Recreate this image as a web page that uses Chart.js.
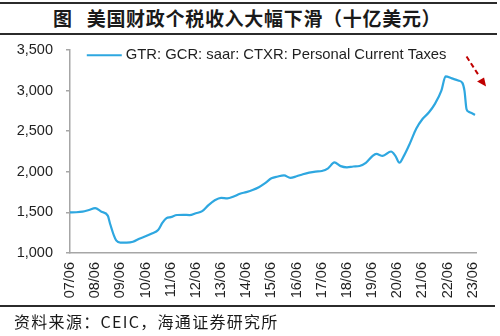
<!DOCTYPE html>
<html>
<head>
<meta charset="utf-8">
<script src="https://cdn.jsdelivr.net/npm/chart.js@4.4.1/dist/chart.umd.min.js"></script>
<style>
  html, body { margin: 0; padding: 0; background: #fff; }
  #wrap { position: relative; width: 500px; height: 336px; overflow: hidden; }
  #c { position: absolute; left: 0; top: 0; }
  .rule { position: absolute; left: 0; height: 2px; background: #2b2b2b; }
  #title { position: absolute; left: 53px; top: 6px; white-space: nowrap;
    font-family: "Noto Sans CJK SC", sans-serif; font-weight: 700; font-size: 19px; line-height: 24px; color: #1a1a1a; letter-spacing: 0.7px; }
  #title span { margin-left: 14px; }
  #source { position: absolute; left: 14px; top: 310px; white-space: nowrap;
    font-family: "Noto Sans CJK SC", sans-serif; font-size: 16px; line-height: 22px; color: #1a1a1a; letter-spacing: 1.3px; }
</style>
</head>
<body>
<div id="wrap">
  <div class="rule" style="top:2px;width:497px"></div>
  <div id="title">图<span>美国财政个税收入大幅下滑（十亿美元）</span></div>
  <div class="rule" style="top:33px;width:497px"></div>
  <canvas id="c" width="500" height="336"></canvas>
  <div class="rule" style="top:305px;width:495px;height:1.5px"></div>
  <div id="source">资料来源：CEIC，海通证券研究所</div>
</div>
<script>
// ---- data (billions USD, SAAR) ----
const seriesName = 'GTR: GCR: saar: CTXR: Personal Current Taxes';
const dates = ['07/06','07/09','07/12','08/03','08/06','08/09','08/12','09/01','09/03','09/04',
  '09/06','09/09','09/12','10/03','10/06','10/09','10/12','11/02','11/04','11/06',
  '11/09','11/12','12/03','12/06','12/09','12/12','13/03','13/06','13/09','13/12',
  '14/03','14/06','14/09','14/12','15/03','15/06','15/09','15/12','16/03','16/06',
  '16/09','16/12','17/03','17/06','17/09','17/12','18/03','18/06','18/09','18/12',
  '19/03','19/06','19/08','19/11','20/03','20/05','20/07','20/09','20/12','21/03',
  '21/06','21/09','21/12','22/03','22/05','22/08','22/11','23/01','23/02','23/03',
  '23/04','23/06','23/07'];
const values = [1500,1502,1510,1530,1552,1508,1460,1370,1210,1155,
  1128,1128,1138,1175,1205,1240,1283,1370,1430,1442,
  1468,1470,1467,1490,1515,1590,1650,1680,1672,1695,
  1730,1750,1775,1810,1860,1920,1942,1955,1925,1945,
  1970,1990,2003,2010,2043,2115,2070,2055,2065,2072,
  2110,2190,2220,2195,2250,2200,2112,2190,2350,2530,
  2650,2730,2840,3000,3175,3150,3125,3095,3000,2770,
  2740,2715,2700];
const yTicks = [1000, 1500, 2000, 2500, 3000, 3500];
const xTickEvery = 12; // one label per year, at June

// month index relative to 2007/06
const baseYear = 2007, baseMonth = 6;
function toIndex(s) {
  const [yy, mm] = s.split('/').map(Number);
  return (2000 + yy - baseYear) * 12 + (mm - baseMonth);
}
function toLabel(i) {
  const tot = baseYear * 12 + (baseMonth - 1) + i;
  const y = Math.floor(tot / 12) % 100, m = tot % 12 + 1;
  return String(y).padStart(2, '0') + '/' + String(m).padStart(2, '0');
}
const points = dates.map((d, k) => ({ x: toIndex(d), y: values[k] }));

const lineColor = '#2ea7e0';
const axisColor = '#a6a6a6';
const textColor = '#1f1f1f';
const tickFont = { family: '"Liberation Sans", Arial, sans-serif', size: 14.5 };

const overlay = {
  id: 'overlay',
  afterDraw(chart) {
    const ctx = chart.ctx;
    const xs = chart.scales.x, ys = chart.scales.y;
    // legend inside plot
    ctx.save();
    ctx.strokeStyle = lineColor; ctx.lineWidth = 2;
    const lx = xs.getPixelForValue(8), ly = ys.getPixelForValue(3435);
    ctx.beginPath(); ctx.moveTo(lx, ly); ctx.lineTo(lx + 35, ly); ctx.stroke();
    ctx.fillStyle = textColor;
    ctx.font = '14.8px "Liberation Sans", Arial, sans-serif';
    ctx.textBaseline = 'middle';
    ctx.fillText(chart.data.datasets[0].label, lx + 39, ly);
    // red dashed arrow (annotation)
    const ax0 = xs.getPixelForValue(189), ay0 = ys.getPixelForValue(3420);
    const ax1 = xs.getPixelForValue(194.5), ay1 = ys.getPixelForValue(3200);
    ctx.strokeStyle = '#c00000'; ctx.lineWidth = 2; ctx.setLineDash([5, 3]);
    ctx.beginPath(); ctx.moveTo(ax0, ay0); ctx.lineTo(ax1, ay1); ctx.stroke();
    ctx.setLineDash([]);
    const tipX = xs.getPixelForValue(198.3), tipY = ys.getPixelForValue(3050);
    ctx.fillStyle = '#c00000';
    ctx.beginPath();
    ctx.moveTo(tipX, tipY);
    ctx.lineTo(tipX - 9, tipY - 5);
    ctx.lineTo(tipX - 2, tipY - 9);
    ctx.closePath(); ctx.fill();
    ctx.restore();
  }
};

new Chart(document.getElementById('c'), {
  type: 'line',
  data: {
    datasets: [{
      label: seriesName,
      data: points,
      borderColor: lineColor,
      borderWidth: 2.2,
      pointRadius: 0,
      fill: false,
      cubicInterpolationMode: 'monotone'
    }]
  },
  options: {
    responsive: false,
    animation: false,
    events: [],
    layout: { padding: { top: 50, right: 24, left: 0, bottom: 0 } },
    plugins: { legend: { display: false }, tooltip: { enabled: false } },
    scales: {
      x: {
        type: 'linear',
        min: 0, max: 193.5,
        afterFit: s => { s.height = 83; },
        afterBuildTicks: s => {
          const t = [];
          for (let i = 0; i <= 192; i += xTickEvery) t.push({ value: i });
          s.ticks = t;
        },
        grid: { display: false, drawTicks: false },
        border: { display: true, color: axisColor, width: 1.5 },
        ticks: {
          autoSkip: false, minRotation: 90, maxRotation: 90,
          padding: 9, color: textColor, font: tickFont,
          callback: v => toLabel(v)
        }
      },
      y: {
        min: 1000, max: 3500,
        afterFit: s => { s.width = 70; },
        afterBuildTicks: s => { s.ticks = yTicks.map(v => ({ value: v })); },
        grid: { drawOnChartArea: false, drawTicks: true, tickLength: 4, color: axisColor, lineWidth: 1.5 },
        border: { display: true, color: axisColor, width: 1.5 },
        ticks: {
          padding: 13, color: textColor, font: tickFont,
          callback: v => v.toLocaleString('en-US')
        }
      }
    }
  },
  plugins: [overlay]
});
</script>
</body>
</html>
